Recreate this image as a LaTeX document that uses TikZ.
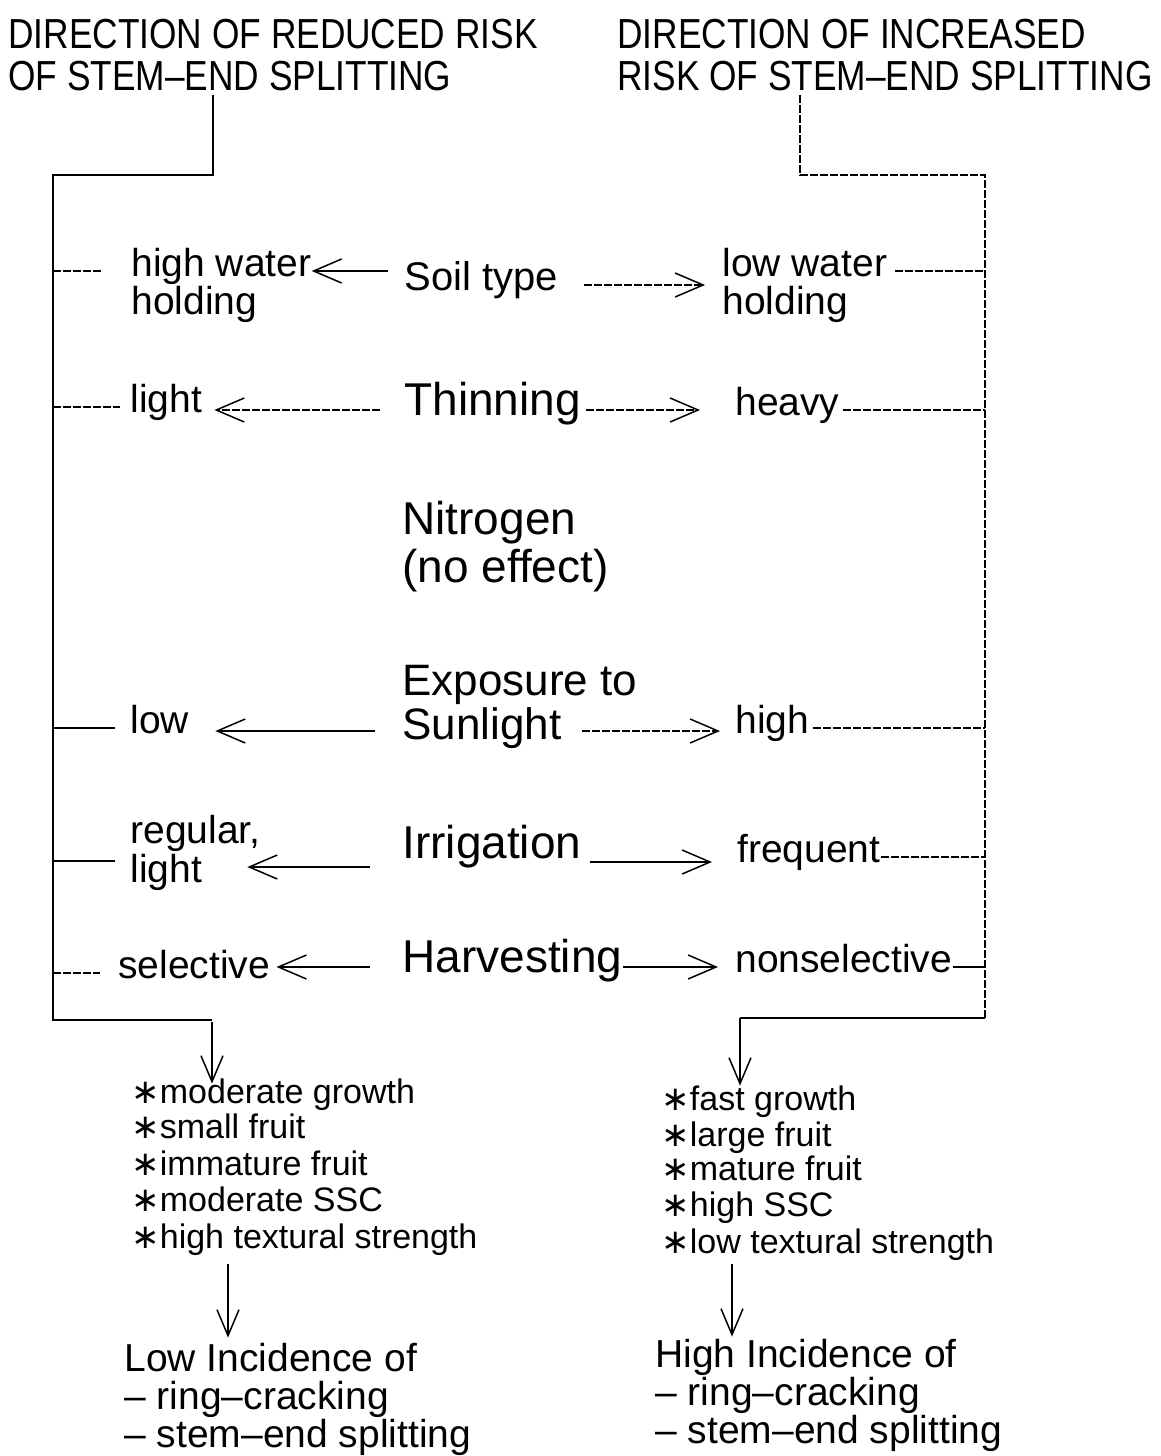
\documentclass[tikz,border=0pt]{standalone}
\usepackage{fontspec}
\setmainfont{Liberation Sans}
\newfontfamily\mytitlefont[FakeStretch=0.84]{Liberation Sans}
\newfontfamily\mydejavu{DejaVu Sans}
\usetikzlibrary{arrows.meta}
\newcommand\myFtitle{\mytitlefont\fontsize{21}{25}\selectfont}
\newcommand\myFcen{\fontsize{23}{27}\selectfont}
\newcommand\myFexp{\fontsize{22}{26}\selectfont}
\newcommand\myFsoil{\fontsize{20}{24}\selectfont}
\newcommand\myFside{\fontsize{19.5}{23}\selectfont}
\newcommand\myFlist{\fontsize{17}{20}\selectfont}
\newcommand\myFinc{\fontsize{19.5}{24}\selectfont}
\newcommand\myast{{\mydejavu ∗}}
\tikzset{
  lbl/.style={inner sep=0pt, anchor=base west, text height=0.6em, text depth=0.1em},
  ln/.style={line width=0.75pt},
  brk/.style={dash pattern=on 4pt off 1pt},
  arr/.style={ln, -{Straight Barb[length=14pt,width=12pt,line width=0.75pt]}},
  darr/.style={ln, -{Straight Barb[length=13pt,width=11pt,line width=0.75pt]}}
}
\begin{document}
\begin{tikzpicture}[x=0.5pt,y=-0.5pt]
\useasboundingbox (0,0) rectangle (1161,1456);

% titles
\node[lbl, font=\myFtitle] (tl1) at (8,48) {DIRECTION OF REDUCED RISK};
\node[lbl, font=\myFtitle] (tl2) at (8,90) {OF STEM–END SPLITTING};
\node[lbl, font=\myFtitle] (tr1) at (617,48) {DIRECTION OF INCREASED};
\node[lbl, font=\myFtitle] (tr2) at (617,90) {RISK OF STEM–END SPLITTING};

% frame coordinates
\coordinate (ltop) at (213,95);
\coordinate (lc1) at (213,175);
\coordinate (lf) at (53,175);
\coordinate (lc3) at (53,1020);
\coordinate (lc4) at (212,1020);
\coordinate (rtop) at (800,95);
\coordinate (rc1) at (800,175);
\coordinate (rf) at (985,175);
\coordinate (rc3) at (985,1018);
\coordinate (rc4) at (740,1018);
\coordinate (la) at (228,0);
\coordinate (ra) at (732,0);

% row 1
\node[lbl, font=\myFside] (hw1) at (131,276) {high water};
\node[lbl, font=\myFside] (hw2) at (131,314) {holding};
\node[lbl, font=\myFsoil] (soil) at (404,290) {Soil type};
\node[lbl, font=\myFside] (lw1) at (722,276) {low water};
\node[lbl, font=\myFside] (lw2) at (722,314) {holding};
% row 2
\node[lbl, font=\myFside] (lt) at (130,412) {light};
\node[lbl, font=\myFcen] (thin) at (404,415) {Thinning};
\node[lbl, font=\myFside] (hv) at (735,415) {heavy};
% row 3
\node[lbl, font=\myFcen] (nit1) at (402,534) {Nitrogen};
\node[lbl, font=\myFcen] (nit2) at (402,582) {(no effect)};
% row 4
\node[lbl, font=\myFexp] (exp1) at (402,695) {Exposure to};
\node[lbl, font=\myFexp] (exp2) at (402,739) {Sunlight};
\node[lbl, font=\myFside] (lo) at (130,733) {low};
\node[lbl, font=\myFside] (hi) at (735,733) {high};
% row 5
\node[lbl, font=\myFside] (reg1) at (130,843) {regular,};
\node[lbl, font=\myFside] (reg2) at (130,882) {light};
\node[lbl, font=\myFcen] (irr) at (402,858) {Irrigation};
\node[lbl, font=\myFside] (fr) at (737,862) {frequent};
% row 6
\node[lbl, font=\myFside] (sel) at (118,978) {selective};
\node[lbl, font=\myFcen] (harv) at (402,972) {Harvesting};
\node[lbl, font=\myFside] (nsel) at (735,972) {nonselective};

% lists
\node[lbl, font=\myFlist] (l1) at (131,1103) {\myast moderate growth};
\node[lbl, font=\myFlist] (l2) at (131,1138) {\myast small fruit};
\node[lbl, font=\myFlist] (l3) at (131,1175) {\myast immature fruit};
\node[lbl, font=\myFlist] (l4) at (131,1211) {\myast moderate SSC};
\node[lbl, font=\myFlist] (l5) at (131,1248) {\myast high textural strength};
\node[lbl, font=\myFlist] (r1) at (661,1110) {\myast fast growth};
\node[lbl, font=\myFlist] (r2) at (661,1146) {\myast large fruit};
\node[lbl, font=\myFlist] (r3) at (661,1180) {\myast mature fruit};
\node[lbl, font=\myFlist] (r4) at (661,1216) {\myast high SSC};
\node[lbl, font=\myFlist] (r5) at (661,1253) {\myast low textural strength};

\node[lbl, font=\myFinc] (li1) at (124,1371) {Low Incidence of};
\node[lbl, font=\myFinc] (li2) at (124,1409) {– ring–cracking};
\node[lbl, font=\myFinc] (li3) at (124,1447) {– stem–end splitting};
\node[lbl, font=\myFinc] (ri1) at (655,1367) {High Incidence of};
\node[lbl, font=\myFinc] (ri2) at (655,1405) {– ring–cracking};
\node[lbl, font=\myFinc] (ri3) at (655,1443) {– stem–end splitting};

% frames
\draw[ln] (ltop) -- (lc1) -- (lf) -- (lc3) -- (lc4);
\draw[ln, brk] (rtop) -- (rc1) -- (rf) -- (rc3);
\draw[ln] (rc3) -- (rc4);
\draw[darr, shorten <=1pt, shorten >=3.5pt] (lc4) -- (lc4 |- l1.north);
\draw[darr, shorten >=6pt] (rc4) -- (rc4 |- r1.north);
\draw[darr, shorten <=7pt, shorten >=10.5pt] (l5.south -| la) -- (li1.north -| la);
\draw[darr, shorten <=4.5pt, shorten >=9pt] (r5.south -| ra) -- (ri1.north -| ra);

% row 1 connectors
\draw[arr, shorten <=8pt] (hw1.east -| soil.west) -- (hw1.east);
\draw[arr, brk, shorten <=13pt, shorten >=8.5pt] (soil.east) -- (soil.east -| lw1.west);
\draw[ln, brk, shorten >=14.5pt] (hw1.west -| lf) -- (hw1.west);
\draw[ln, brk, shorten <=3.5pt] (lw1.east) -- (lw1.east -| rf);
% row 2
\draw[arr, brk, shorten <=12pt, shorten >=6pt] (thin.west) -- (thin.west -| lt.east);
\draw[arr, brk, shorten <=2.5pt, shorten >=17.5pt] (thin.east) -- (thin.east -| hv.west);
\draw[ln, brk, shorten >=5pt] (lt.west -| lf) -- (lt.west);
\draw[ln, brk, shorten <=1.5pt] (hv.east) -- (hv.east -| rf);
% row 4
\draw[arr, transform canvas={yshift=1.5pt}, shorten <=13.5pt, shorten >=13pt] (exp2.west) -- (exp2.west -| lo.east);
\draw[arr, brk, transform canvas={yshift=1.5pt}, shorten <=10pt, shorten >=7.5pt] (exp2.east) -- (exp2.east -| hi.west);
\draw[ln, shorten >=7.5pt] (lo.west -| lf) -- (lo.west);
\draw[ln, brk, shorten <=1.5pt] (hi.east) -- (hi.east -| rf);
% row 5
\draw[arr, transform canvas={yshift=-7pt}, shorten <=16pt, shorten >=22.5pt] (irr.west) -- (irr.west -| reg2.east);
\draw[arr, transform canvas={yshift=-4.5pt}, shorten <=4pt, shorten >=12.5pt] (irr.east) -- (irr.east -| fr.west);
\draw[ln, transform canvas={yshift=8pt}, shorten >=7.5pt] (reg2.west -| lf) -- (reg2.west);
\draw[ln, brk] (fr.east) -- (fr.east -| rf);
% row 6
\draw[arr, shorten <=16pt, shorten >=3pt] (harv.west) -- (harv.west -| sel.east);
\draw[arr, shorten >=8.5pt] (harv.east) -- (harv.east -| nsel.west);
\draw[ln, brk, shorten >=9pt] (sel.west -| lf) -- (sel.west);
\draw[ln] (nsel.east) -- (nsel.east -| rf);
\end{tikzpicture}
\end{document}
